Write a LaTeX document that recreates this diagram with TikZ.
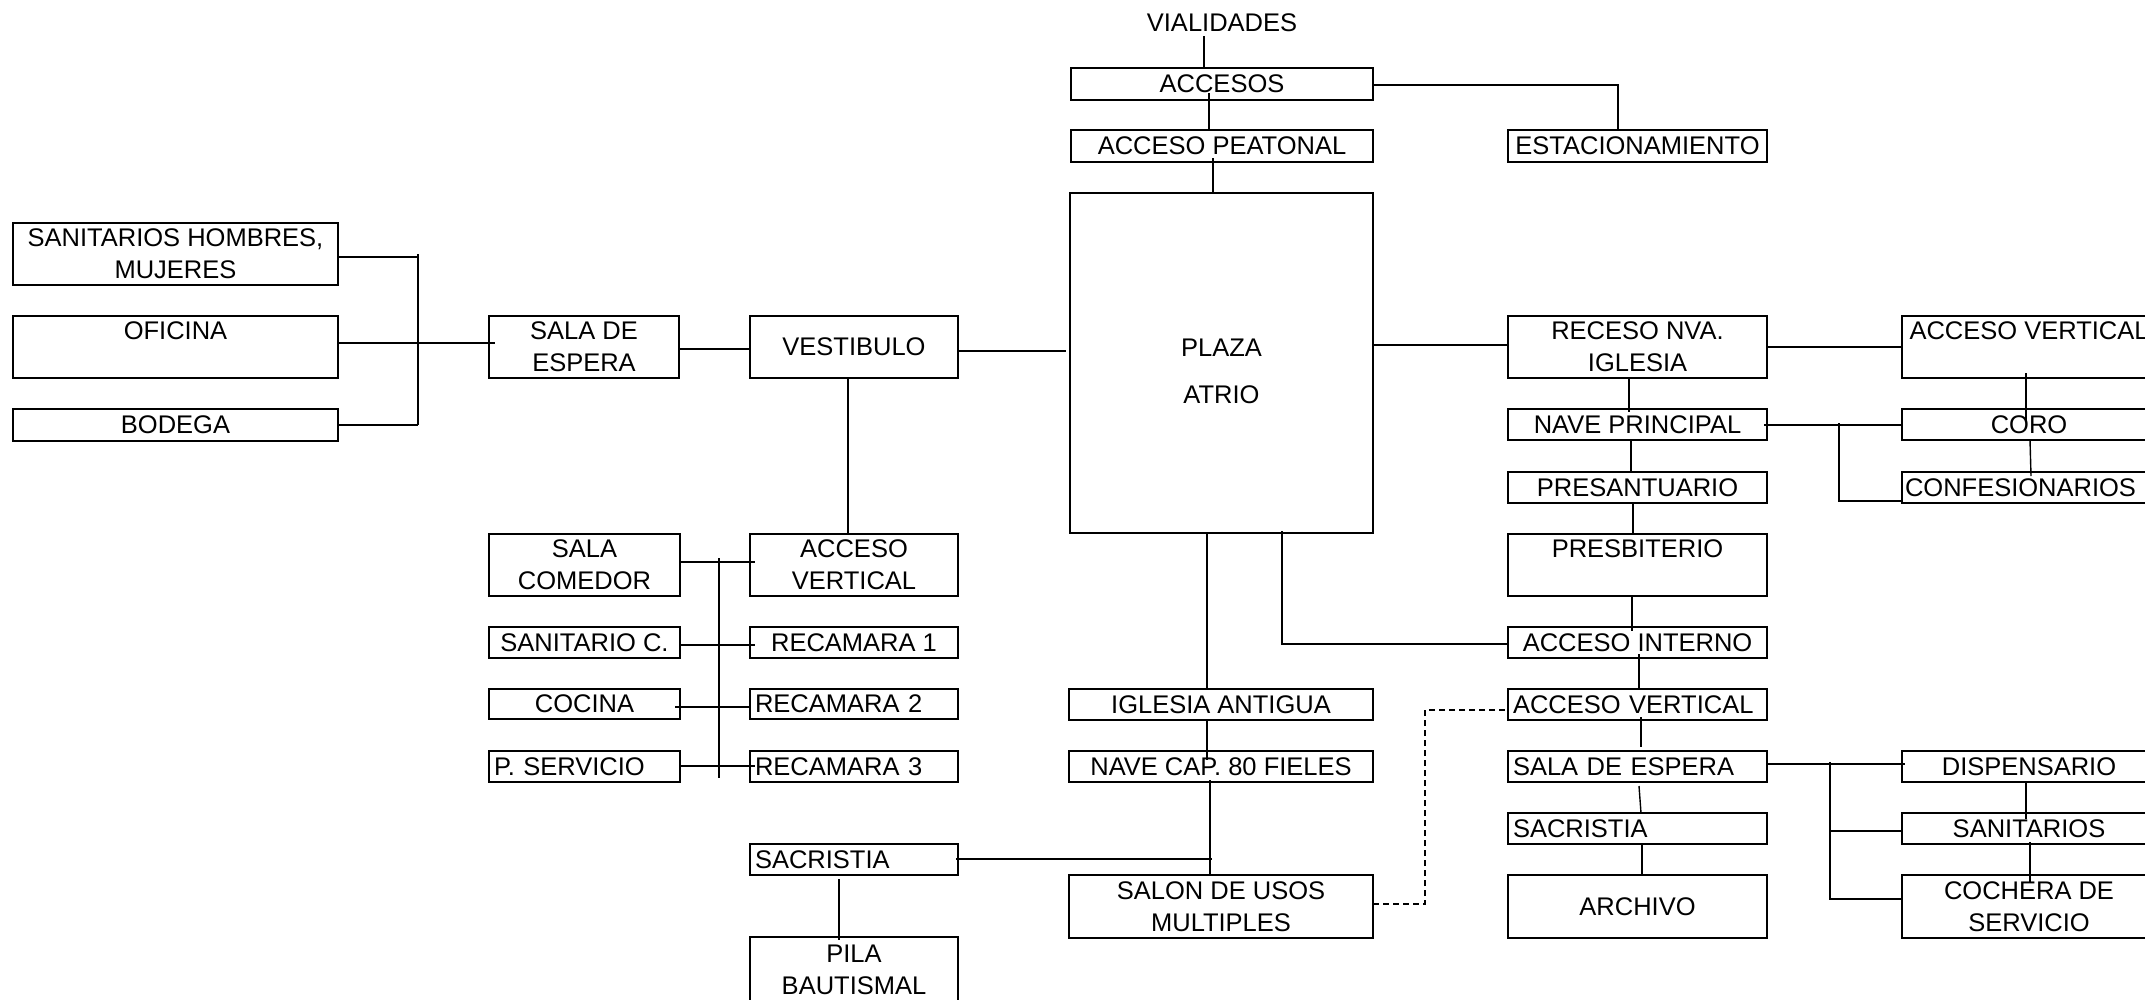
\documentclass[tikz,border=0pt]{standalone}
\usepackage{fontspec}
\setmainfont{Liberation Sans}
\usetikzlibrary{calc}
% \roombox[extra style]{name}{x1}{y1}{x2}{y2}{text}: a framed room between two corners
\newcommand\roombox[7][]{%
  \node[box,#1,minimum width={(#5-#3)*1pt},minimum height={(#6-#4)*1pt}]
    (#2) at ({(#3+#5)/2},{(#4+#6)/2}) {#7};}
\begin{document}
\begin{tikzpicture}[x=1pt,y=-1pt,
  font=\fontsize{25.5}{32}\selectfont,
  box/.style={draw, line width=2.2pt, inner xsep=5pt, inner ysep=0pt, outer sep=0pt, align=center},
  lbox/.style={align=left, text width=#1},
  link/.style={line width=1.4pt},
  dlink/.style={line width=1.4pt, dash pattern=on 6pt off 4pt}]
\useasboundingbox (0,0) rectangle (2145,999);

% ---- top: access ----
\node[inner sep=0pt] (vial) at (1222,23) {VIALIDADES};
\roombox{accesos}{1071}{68}{1373}{100}{ACCESOS}
\roombox{peatonal}{1071}{130}{1373}{162}{ACCESO PEATONAL}
\roombox{estac}{1508}{130}{1767}{162}{ESTACIONAMIENTO}
\roombox{plaza}{1070}{193}{1373}{533}{}
\node[align=center, inner sep=0pt] (plazatxt) at ([yshift=-8pt]plaza.center) {PLAZA\\[15pt]ATRIO};

% ---- left wing ----
\roombox{sanh}{13}{223}{338}{285}{SANITARIOS HOMBRES,\\MUJERES}
\roombox{ofi}{13}{316}{338}{378}{OFICINA\\\mbox{}}
\roombox{bod}{13}{409}{338}{441}{BODEGA}
\roombox{salaesp}{489}{316}{679}{378}{SALA DE\\ESPERA}
\roombox{vest}{750}{316}{958}{378}{VESTIBULO}
\roombox{comedor}{489}{534}{680}{596}{SALA\\COMEDOR}
\roombox{accvl}{750}{534}{958}{596}{ACCESO\\VERTICAL}
\roombox{sanc}{489}{627}{680}{658}{SANITARIO C.}
\roombox{rec1}{750}{627}{958}{658}{RECAMARA 1}
\roombox{cocina}{489}{689}{680}{719}{COCINA}
\roombox[lbox=198pt]{rec2}{750}{689}{958}{719}{RECAMARA 2}
\roombox[lbox=181pt]{pserv}{489}{751}{680}{782}{P. SERVICIO}
\roombox[lbox=198pt]{rec3}{750}{751}{958}{782}{RECAMARA 3}
\roombox[lbox=198pt]{sacl}{750}{844}{958}{875}{SACRISTIA}
\roombox{pila}{750}{937}{958}{1003}{PILA\\BAUTISMAL}

% ---- centre: old church ----
\roombox{iglant}{1069}{689}{1373}{720}{IGLESIA ANTIGUA}
\roombox{navecap}{1069}{751}{1373}{782}{NAVE CAP. 80 FIELES}
\roombox{salon}{1069}{875}{1373}{938}{SALON DE USOS\\MULTIPLES}

% ---- right wing: new church ----
\roombox{receso}{1508}{316}{1767}{378}{RECESO NVA.\\IGLESIA}
\roombox{nave}{1508}{409}{1767}{440}{NAVE PRINCIPAL}
\roombox{presant}{1508}{472}{1767}{503}{PRESANTUARIO}
\roombox{presb}{1508}{534}{1767}{596}{PRESBITERIO\\\mbox{}}
\roombox{accint}{1508}{627}{1767}{658}{ACCESO INTERNO}
\roombox[lbox=249pt]{accvr}{1508}{689}{1767}{720}{ACCESO VERTICAL}
\roombox[lbox=249pt]{salaespr}{1508}{751}{1767}{782}{SALA DE ESPERA}
\roombox[lbox=249pt]{sacr}{1508}{813}{1767}{844}{SACRISTIA}
\roombox{archivo}{1508}{875}{1767}{938}{ARCHIVO}

\roombox{accvrr}{1902}{316}{2156}{378}{ACCESO VERTICAL\\\mbox{}}
\roombox{coro}{1902}{409}{2156}{440}{CORO}
\roombox[lbox=248pt,inner xsep=3pt]{confes}{1902}{472}{2156}{503}{CONFESIONARIOS}
\roombox{dispens}{1902}{751}{2156}{782}{DISPENSARIO}
\roombox{sanit}{1902}{813}{2156}{844}{SANITARIOS}
\roombox{cochera}{1902}{875}{2156}{938}{COCHERA DE\\SERVICIO}

% ---- connectors: top ----
\draw[link] ([shift={(-18pt,-4pt)}]vial.south) -- ([xshift=-18pt]accesos.north);
\draw[link] ([shift={(-13pt,7pt)}]accesos.south) -- ([xshift=-13pt]peatonal.north);
\draw[link] ([yshift=-1pt]accesos.east) -| ([xshift=-19.5pt]estac.north);
\draw[link] ([shift={(-9pt,4pt)}]peatonal.south) -- ([xshift=-8.5pt]plaza.north);
\draw[link] ([yshift=18pt]plaza.east) -- ($(plaza.east -| receso.west)+(0,18pt)$);
\draw[link] ([yshift=-4pt]vest.east) -- ([shift={(-4pt,12pt)}]plaza.west);

% ---- connectors: left wing ----
\draw[link] ([yshift=-2pt]salaesp.east) -- ([yshift=-2pt]vest.west);
\draw[link] ([yshift=4pt]ofi.east) -- ([shift={(6pt,4pt)}]salaesp.west);
\coordinate (busa) at (418,0);
\draw[link] ([yshift=-3pt]sanh.east) -- ($(sanh.east -| busa)+(0,-3pt)$);
\draw[link] (sanh.east -| busa) -- (bod.east -| busa);
\draw[link] (bod.east) -- (bod.east -| busa);
\draw[link] ([xshift=-6pt]vest.south) -- ([xshift=-6pt]accvl.north);
\draw[link] ([yshift=3pt]comedor.east) -- ([shift={(5pt,3pt)}]accvl.west);
\coordinate (busbtop) at (719,558);
\coordinate (busbbot) at (719,778);
\draw[link] (busbtop) -- (busbbot);
\draw[link] ([yshift=-2.5pt]sanc.east) -- ([shift={(5pt,-2.5pt)}]rec1.west);
\draw[link] ([shift={(-5pt,-3pt)}]cocina.east) -- ([yshift=-3pt]rec2.west);
\draw[link] ([yshift=0.5pt]pserv.east) -- ([shift={(5pt,0.5pt)}]rec3.west);
\draw[link] ([shift={(-15pt,-4pt)}]sacl.south) -- ([shift={(-15pt,-3pt)}]pila.north);

% ---- connectors: old church ----
\draw[link] ([xshift=-14.5pt]plaza.south) -- ([xshift=-14pt]iglant.north);
\draw[link] ([xshift=-14pt]iglant.south) -- ([shift={(-14pt,-9pt)}]navecap.north);
\draw[link] ([shift={(-11pt,2pt)}]navecap.south) -- ([xshift=-11pt]salon.north);
\draw[link] ([shift={(-2pt,0.5pt)}]sacl.east) -- ($(sacl.east -| salon.north)+(-9pt,0.5pt)$);
\draw[dlink] ([yshift=2.5pt]salon.east) -- ++(52pt,0) |- ([yshift=-5.5pt]accvr.west);
\draw[link] ([shift={(60.5pt,2pt)}]plaza.south) |- ([yshift=-1.5pt]accint.west);

% ---- connectors: new church ----
\draw[link] ([xshift=-8.5pt]receso.south) -- ([shift={(-8.5pt,-3pt)}]nave.north);
\draw[link] ([xshift=-6.5pt]nave.south) -- ([shift={(-6.5pt,-1pt)}]presant.north);
\draw[link] ([xshift=-4.5pt]presant.south) -- ([xshift=-4.5pt]presb.north);
\draw[link] ([xshift=-5.5pt]presb.south) -- ([shift={(-5.5pt,-4pt)}]accint.north);
\draw[link] ([shift={(1.5pt,4pt)}]accint.south) -- ([xshift=1.5pt]accvr.north);
\draw[link] ([shift={(3.5pt,3pt)}]accvr.south) -- ([shift={(3.5pt,4pt)}]salaespr.north);
\draw[link] ([shift={(1.5pt,-4pt)}]salaespr.south) -- ([xshift=3.5pt]sacr.north);
\draw[link] ([xshift=4.5pt]sacr.south) -- ([xshift=4.5pt]archivo.north);
\draw[link] (receso.east) -- (accvrr.west);
\draw[link] ([shift={(-3pt,5pt)}]accvrr.south) -- ([shift={(-3pt,-13pt)}]coro.north);
\draw[link] ([shift={(-3pt,-0.5pt)}]nave.east) -- ($(nave.east -| coro.west)+(0,-0.5pt)$);
\draw[link] ($(nave.east -| confes.west)+(-63pt,1.5pt)$) |- ([yshift=-13.5pt]confes.west);
\draw[link] ([xshift=1pt]coro.south) -- ([shift={(2pt,-4pt)}]confes.north);
\draw[link] ([yshift=2.5pt]salaespr.east) -- ([shift={(3pt,2.5pt)}]dispens.west);
\draw[link] ($(dispens.west)+(-72pt,4.5pt)$) |- ([yshift=7.5pt]cochera.west);
\draw[link] ($(sanit.west)+(-72pt,-2.5pt)$) -- ([yshift=-2.5pt]sanit.west);
\draw[link] ([xshift=-3pt]dispens.south) -- ([shift={(-3pt,-6pt)}]sanit.north);
\draw[link] ([shift={(1pt,2pt)}]sanit.south) -- ([shift={(1pt,-8pt)}]cochera.north);
\end{tikzpicture}
\end{document}
